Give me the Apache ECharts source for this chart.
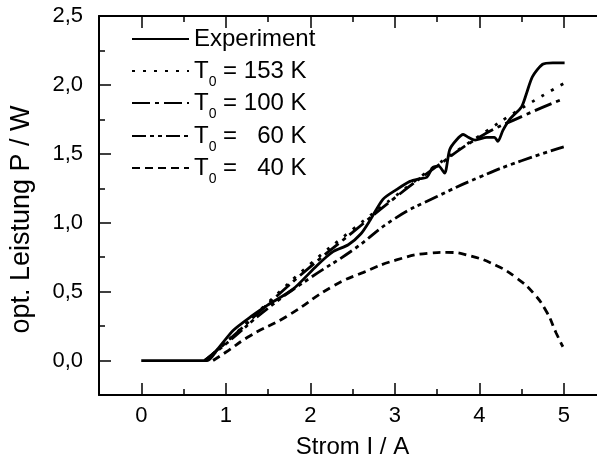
<!DOCTYPE html>
<html><head><meta charset="utf-8">
<script src="https://cdn.jsdelivr.net/npm/echarts@6/dist/echarts.min.js"></script>
<style>html,body{margin:0;padding:0;background:#fff}#c{width:597px;height:467px}</style>
</head><body><div id="c"></div>
<script>
// ---- data ----
const xTicks = [0, 1, 2, 3, 4, 5];
const xMinor = [0.5, 1.5, 2.5, 3.5, 4.5];
const yTicks = [0, 0.5, 1.0, 1.5, 2.0, 2.5];
const yMinor = [0.25, 0.75, 1.25, 1.75, 2.25];

const expI = [0, 0.78, 0.9, 1.09, 1.3, 1.49, 1.8, 2.08, 2.27, 2.45, 2.6, 2.71, 2.86, 3.02, 3.18, 3.3, 3.38, 3.45, 3.52, 3.59, 3.65, 3.73, 3.81, 3.87, 3.95, 4.09, 4.18, 4.22, 4.28, 4.36, 4.5, 4.56, 4.63, 4.75, 4.87, 5.01];
const expP = [0, 0.0, 0.08, 0.22, 0.32, 0.40, 0.52, 0.69, 0.79, 0.84, 0.92, 1.02, 1.17, 1.24, 1.30, 1.32, 1.33, 1.40, 1.41, 1.36, 1.53, 1.60, 1.64, 1.62, 1.60, 1.62, 1.62, 1.59, 1.67, 1.75, 1.84, 1.94, 2.06, 2.15, 2.16, 2.16];

const modI = [0.75, 1, 1.5, 2, 2.5, 3, 3.5, 4, 4.5, 5];
const p153 = [0, 0.13, 0.42, 0.70, 0.95, 1.19, 1.42, 1.63, 1.83, 2.01];
const p100 = [0, 0.13, 0.41, 0.68, 0.93, 1.18, 1.41, 1.62, 1.77, 1.90];
const p60  = [0, 0.12, 0.38, 0.60, 0.80, 1.03, 1.19, 1.33, 1.45, 1.55];

const i40 = [0.85, 1, 1.29, 1.72, 2.27, 2.63, 3.02, 3.42, 3.61, 3.89, 4.2, 4.44, 4.64, 4.8, 4.91, 4.99];
const p40 = [0, 0.06, 0.18, 0.32, 0.54, 0.64, 0.73, 0.78, 0.785, 0.76, 0.69, 0.60, 0.49, 0.35, 0.20, 0.10];

const names = ['Experiment', 'T0 = 153 K', 'T0 = 100 K', 'T0 =   60 K', 'T0 =   40 K'];

// ---- chart ----
const FONT = 'Liberation Sans, Arial, Helvetica, sans-serif';
const zip = (a, b) => a.map((v, i) => [v, b[i]]);
const fmt = v => v.toFixed(1).replace('.', ',');

const seriesDefs = [
  { name: names[0], data: zip(expI, expP), type: 'solid', smooth: 0.25 },
  { name: names[1], data: zip(modI, p153), type: [3, 8], smooth: true },
  { name: names[2], data: zip(modI, p100), type: [18, 5, 4, 5], smooth: true },
  { name: names[3], data: zip(modI, p60), type: [14, 4, 4, 4, 4, 4], smooth: true },
  { name: names[4], data: zip(i40, p40), type: [8, 5], smooth: true }
];

const rowCenters = [45, 77, 109, 142, 174];
const legends = names.map((n, k) => ({
  data: [n],
  left: 131,
  top: rowCenters[k] - 18,
  padding: 0,
  itemWidth: 57,
  itemHeight: 14,
  selectedMode: false,
  itemStyle: { opacity: 0, borderWidth: 0 },
  formatter: name => name.startsWith('T0')
      ? '{t|T}{s|0}{t|' + name.slice(2) + '}'
      : '{t|' + name + '}',
  textStyle: {
    color: '#000', fontFamily: FONT,
    rich: {
      t: { fontSize: 24, lineHeight: 36, color: '#000', fontFamily: FONT },
      s: { fontSize: 14, lineHeight: 14, verticalAlign: 'bottom', color: '#000', fontFamily: FONT }
    }
  }
}));

const axLine = { show: true, onZero: false, lineStyle: { color: '#000', width: 2 } };
const noLine = { show: false, onZero: false };
const xBase = { type: 'value', min: -0.5, max: 5.5, splitLine: { show: false } };
const yBase = { type: 'value', min: -0.25, max: 2.5, splitLine: { show: false } };
const tickStyle = { color: '#000', width: 1.5 };

const option = {
  animation: false,
  backgroundColor: '#fff',
  grid: { left: 99, top: 16, right: -9, bottom: 72, containLabel: false, outerBoundsMode: 'none' },
  legend: legends,
  xAxis: [
    Object.assign({}, xBase, {
      position: 'bottom',
      axisLine: axLine,
      axisTick: { inside: true, length: 12, customValues: xTicks, lineStyle: tickStyle },
      axisLabel: { customValues: xTicks, color: '#000', fontSize: 22, fontFamily: FONT, margin: 10, formatter: v => String(v) },
      name: 'Strom I / A', nameLocation: 'middle', nameGap: 40,
      nameTextStyle: { color: '#000', fontSize: 24, fontFamily: FONT }
    }),
    Object.assign({}, xBase, {
      position: 'bottom', axisLine: noLine,
      axisTick: { inside: true, length: 6, customValues: xMinor, lineStyle: tickStyle },
      axisLabel: { show: false }
    }),
    Object.assign({}, xBase, {
      position: 'top', axisLine: axLine,
      axisTick: { inside: true, length: 12, customValues: xTicks, lineStyle: tickStyle },
      axisLabel: { show: false }
    }),
    Object.assign({}, xBase, {
      position: 'top', axisLine: noLine,
      axisTick: { inside: true, length: 6, customValues: xMinor, lineStyle: tickStyle },
      axisLabel: { show: false }
    })
  ],
  yAxis: [
    Object.assign({}, yBase, {
      position: 'left', axisLine: axLine,
      axisTick: { inside: true, length: 12, customValues: yTicks, lineStyle: tickStyle },
      axisLabel: { customValues: yTicks, color: '#000', fontSize: 22, fontFamily: FONT, margin: 16, formatter: fmt },
      name: 'opt. Leistung P / W', nameLocation: 'middle', nameGap: 64, nameRotate: 90,
      nameTextStyle: { color: '#000', fontSize: 27, fontFamily: FONT, padding: [0, 28, 0, 0] }
    }),
    Object.assign({}, yBase, {
      position: 'left', axisLine: noLine,
      axisTick: { inside: true, length: 6, customValues: yMinor, lineStyle: tickStyle },
      axisLabel: { show: false }
    })
  ],
  series: seriesDefs.map(s => ({
    name: s.name, type: 'line', data: s.data, smooth: s.smooth,
    symbol: 'none', showSymbol: false, xAxisIndex: 0, yAxisIndex: 0,
    lineStyle: { color: '#000', width: 2.8, type: s.type, cap: 'butt' },
    itemStyle: { color: '#000' },
    emphasis: { disabled: true }
  }))
};

const chart = echarts.init(document.getElementById('c'), null, { renderer: 'canvas' });
chart.setOption(option);
</script>
</body></html>
